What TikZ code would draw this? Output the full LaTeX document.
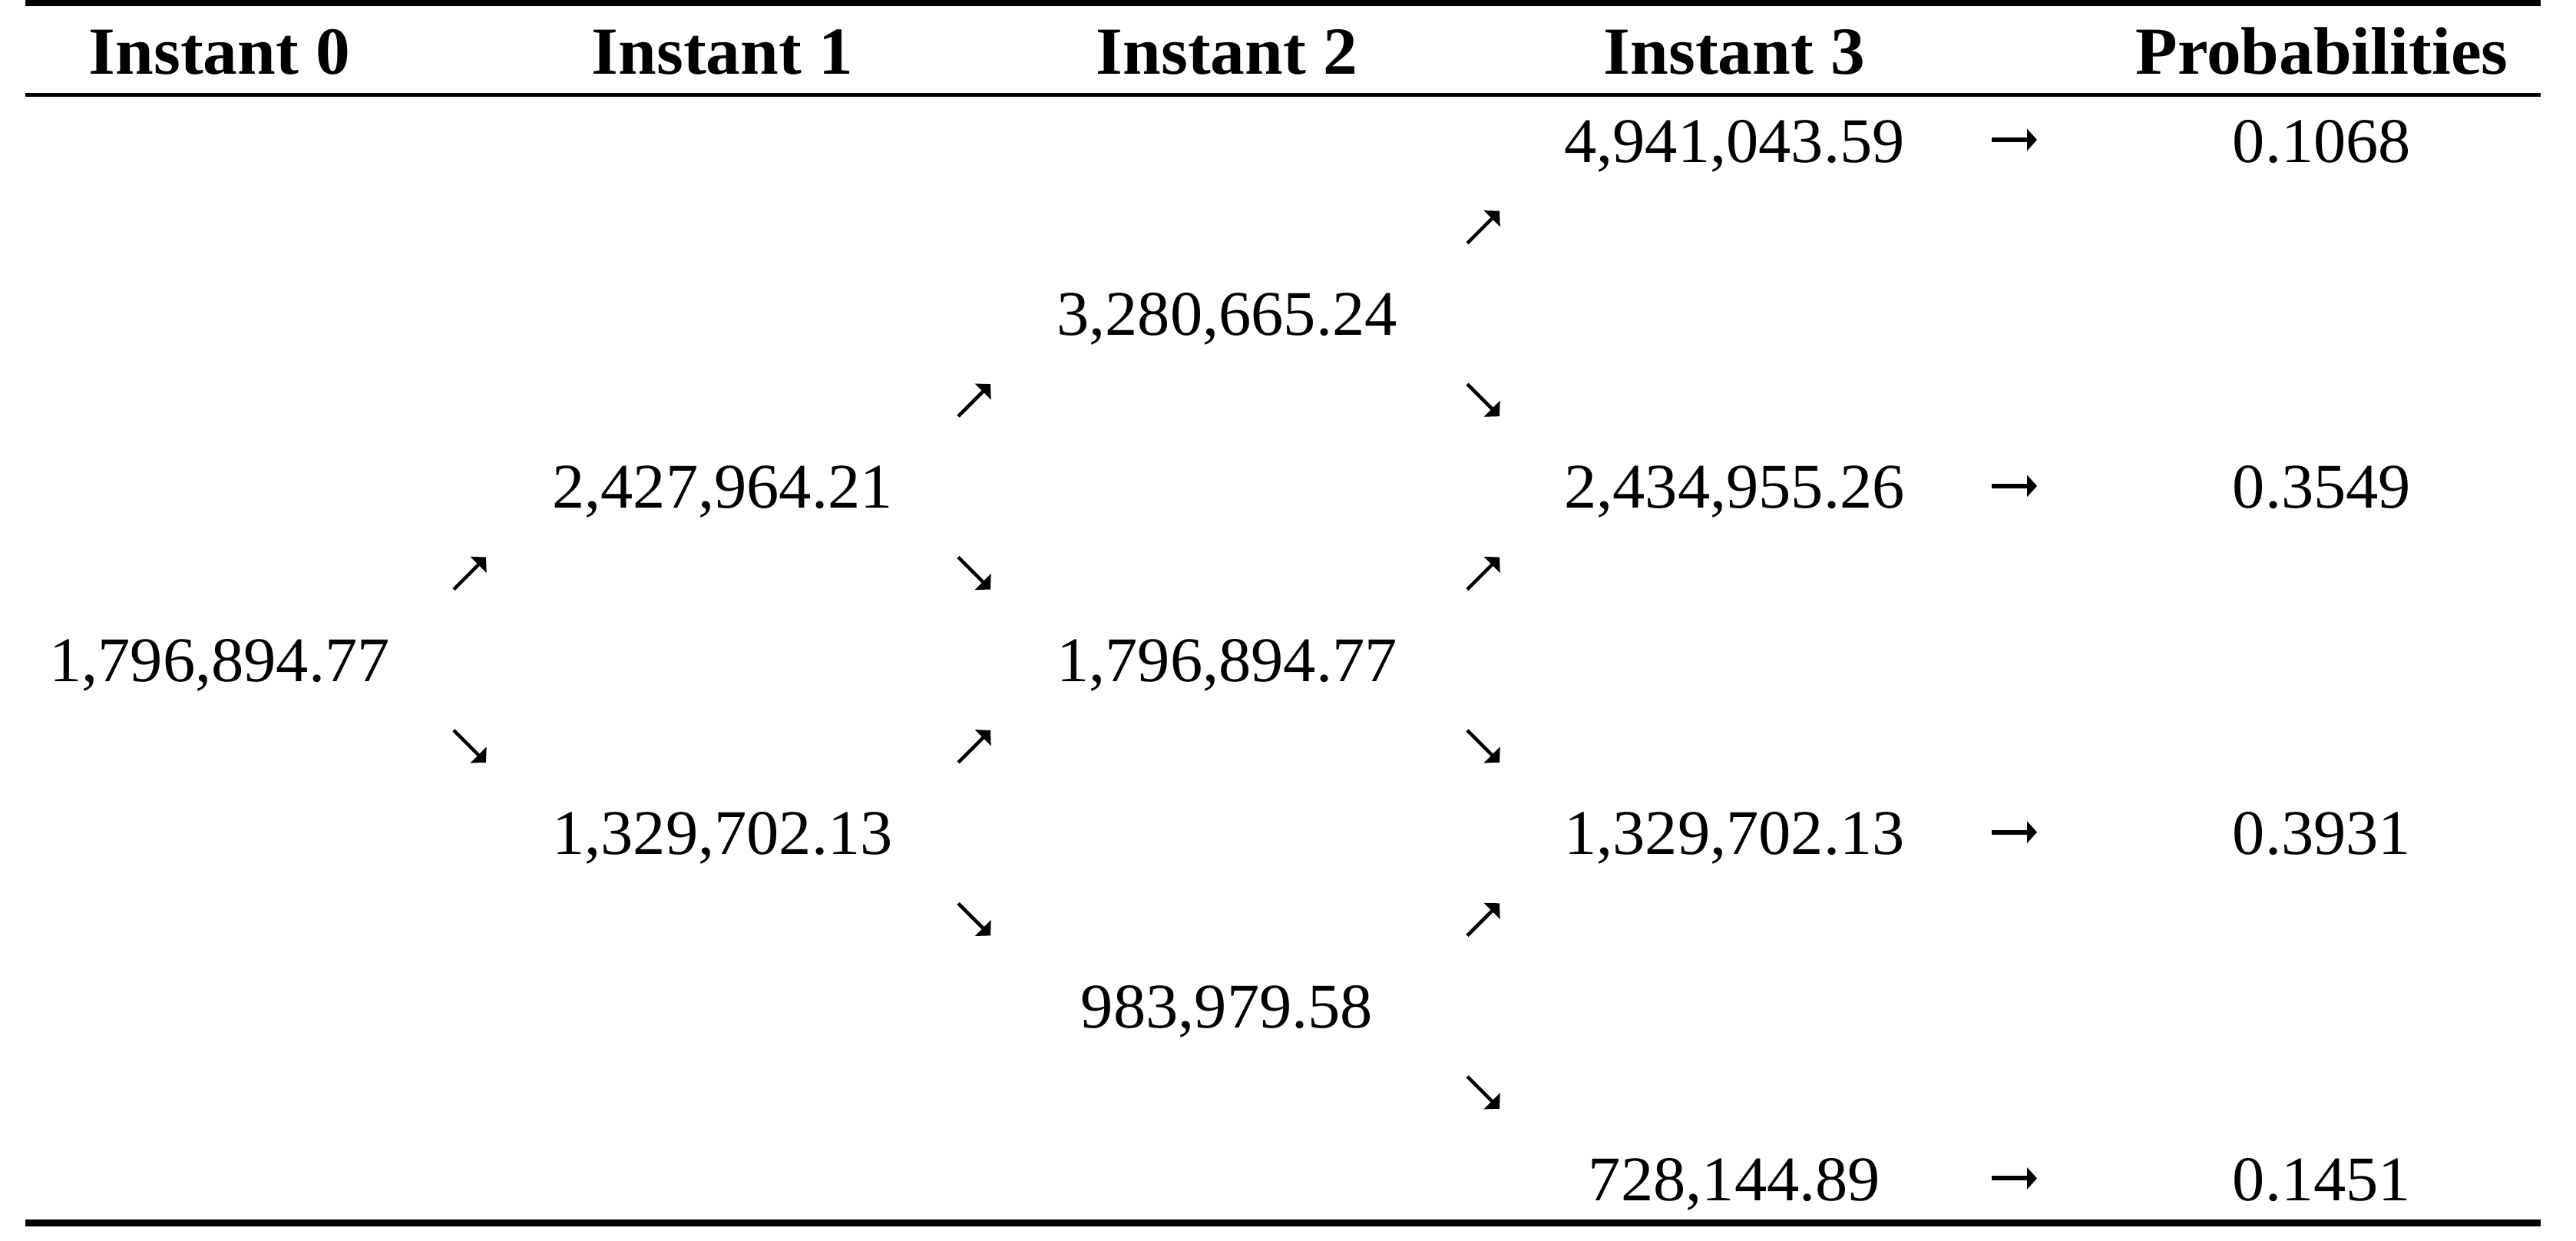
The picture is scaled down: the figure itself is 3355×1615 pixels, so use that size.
\documentclass[tikz,border=0pt]{standalone}
\usepackage{fontspec}
\setmainfont{Liberation Serif}
\newfontfamily\numfont{Liberation Serif}[FakeStretch=1.02]
\newfontfamily\hdfont{Liberation Serif}[FakeStretch=1.02]
\usetikzlibrary{arrows.meta}
\tikzset{
  hd/.style={anchor=base, inner sep=0pt, font=\hdfont\bfseries\fontsize{8.76pt}{10pt}\selectfont},
  num/.style={anchor=base, inner sep=0pt, font=\numfont\fontsize{8.28pt}{10pt}\selectfont},
  diag/.style={line width=0.45pt, -{Triangle[length=1.4pt,width=2.9pt]}},
  rarr/.style={line width=0.6pt, -{Triangle[length=1.3pt,width=2.8pt]}},
  rulesty/.style={line cap=butt}
}
\begin{document}
\begin{tikzpicture}[x=0.1pt, y=-0.1pt]
\useasboundingbox (0,0) rectangle (3355,1615);
% rules
\coordinate (tl) at (33,4);   \coordinate (tr) at (3309,4);
\coordinate (ml) at (33,123.5); \coordinate (mr) at (3309,123.5);
\coordinate (bl) at (33,1592.5); \coordinate (br) at (3309,1592.5);
\draw[rulesty, line width=0.8pt] (tl) -- (tr);
\draw[rulesty, line width=0.5pt] (ml) -- (mr);
\draw[rulesty, line width=0.9pt] (bl) -- (br);
% headers
\node[hd] (h0) at (286,96) {Instant 0};
\node[hd] (h1) at (941,96) {Instant 1};
\node[hd] (h2) at (1598,96) {Instant 2};
\node[hd] (h3) at (2259,96) {Instant 3};
\node[hd] (h4) at (3024,96) {Probabilities};
% row baseline: 183 + 112.7 k + 28
\def\ry#1{\fpeval{211+112.7*#1}}
\node[num] (n6a) at (286,{\ry{6}}) {1,796,894.77};
\node[num] (n4b) at (941,{\ry{4}}) {2,427,964.21};
\node[num] (n8b) at (941,{\ry{8}}) {1,329,702.13};
\node[num] (n2c) at (1598,{\ry{2}}) {3,280,665.24};
\node[num] (n6c) at (1598,{\ry{6}}) {1,796,894.77};
\node[num] (n10c) at (1598,{\ry{10}}) {983,979.58};
\node[num] (n0d) at (2259,{\ry{0}}) {4,941,043.59};
\node[num] (n4d) at (2259,{\ry{4}}) {2,434,955.26};
\node[num] (n8d) at (2259,{\ry{8}}) {1,329,702.13};
\node[num] (n12d) at (2259,{\ry{12}}) {728,144.89};
\node[num] (p0) at (3024,{\ry{0}}) {0.1068};
\node[num] (p4) at (3024,{\ry{4}}) {0.3549};
\node[num] (p8) at (3024,{\ry{8}}) {0.3931};
\node[num] (p12) at (3024,{\ry{12}}) {0.1451};
% diagonal arrows: center y = 183 + 112.7 k
\def\cy#1{\fpeval{183+112.7*#1}}
\def\up#1#2{\draw[diag] (#1-21,{\cy{#2}+21}) -- ++(42,-42);}
\def\dn#1#2{\draw[diag] (#1-21,{\cy{#2}-21}) -- ++(42,42);}
\up{612}{5}
\dn{612}{7}
\up{1269}{3}
\dn{1269}{5}
\up{1269}{7}
\dn{1269}{9}
\up{1932}{1}
\dn{1932}{3}
\up{1932}{5}
\dn{1932}{7}
\up{1932}{9}
\dn{1932}{11}
% right arrows
\foreach \k in {0,4,8,12}{
  \draw[rarr] (2594,{\cy{\k}-1}) -- (2653,{\cy{\k}-1});
}
\end{tikzpicture}
\end{document}
